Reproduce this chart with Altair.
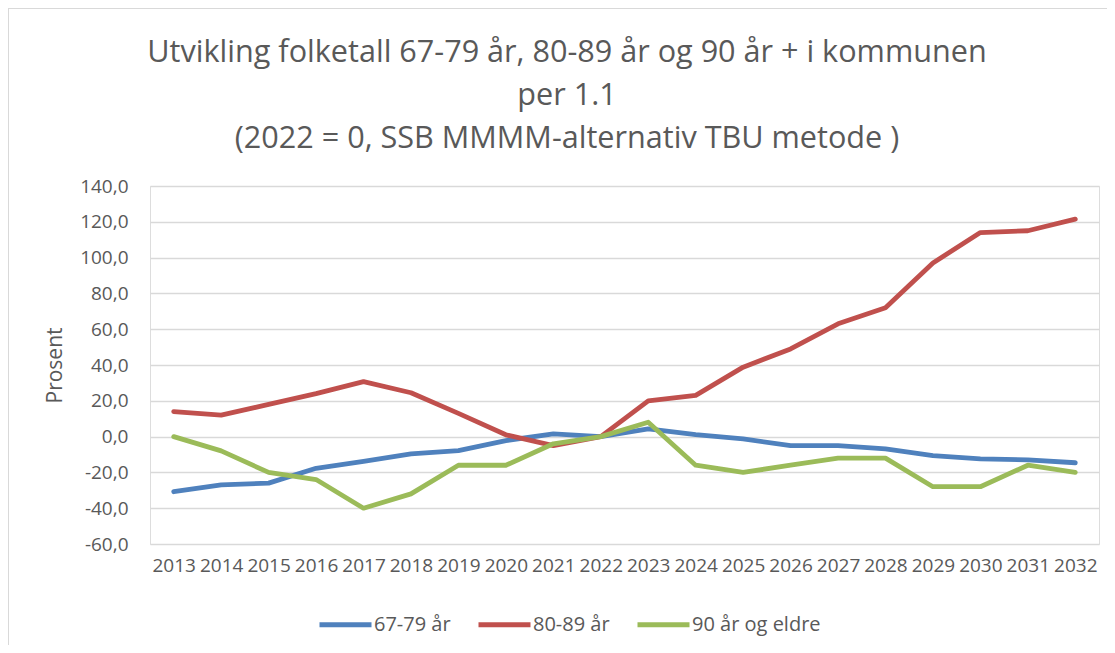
import altair as alt
import pandas as pd

years = [str(y) for y in range(2013, 2033)]
series_names = ["67-79 år", "80-89 år", "90 år og eldre"]
v_67_79 = [-30.8, -27.0, -26.0, -17.7, -13.8, -9.7, -7.8, -2.2, 1.5, 0.0,
           4.3, 1.1, -1.3, -5.0, -5.0, -6.9, -10.6, -12.5, -13.0, -14.6]
v_80_89 = [14.0, 12.0, 18.0, 24.0, 30.7, 24.5, 13.0, 1.0, -5.0, 0.0,
           20.0, 23.0, 38.8, 49.0, 63.0, 72.0, 97.0, 114.0, 115.0, 121.5]
v_90 = [0.0, -8.0, -20.0, -24.0, -40.0, -32.0, -16.0, -16.0, -4.0, 0.0,
        8.0, -16.0, -20.0, -16.0, -12.0, -12.0, -28.0, -28.0, -16.0, -20.0]
colors = ["#4f81bd", "#c0504d", "#9bbb59"]
y_ticks = [-60, -40, -20, 0, 20, 40, 60, 80, 100, 120, 140]
title_lines = ["Utvikling folketall 67-79 år, 80-89 år og 90 år + i kommunen",
               "per 1.1",
               "(2022 = 0, SSB MMMM-alternativ TBU metode )"]

rows = []
for name, vals in zip(series_names, [v_67_79, v_80_89, v_90]):
    for y, v in zip(years, vals):
        rows.append({"År": y, "Serie": name, "Prosent": v})
df = pd.DataFrame(rows)
title_df = pd.DataFrame({"tittel": ["\n".join(title_lines)]})

FONT = "Open Sans"
GREY = "#595959"

lines = alt.Chart(df).mark_line(strokeWidth=4.8, strokeCap="round", strokeJoin="round").encode(
    x=alt.X("År:O", sort=years, scale=alt.Scale(padding=0.5),
            axis=alt.Axis(title=None, labelAngle=0, ticks=False, domain=False,
                          labelPadding=12, labelFontSize=19, labelColor=GREY,
                          labelFont=FONT, labelOverlap=False, grid=False)),
    y=alt.Y("Prosent:Q", scale=alt.Scale(domain=[-60, 140], nice=False, zero=False),
            axis=alt.Axis(values=y_ticks, title="Prosent", ticks=False, domain=False,
                          grid=True, gridColor="#d9d9d9", gridWidth=1.5,
                          labelPadding=22, labelFontSize=19, labelColor=GREY, labelFont=FONT,
                          labelExpr="(datum.value < 0 ? '-' : '') + replace(format(abs(datum.value), '.1f'), '.', ',')",
                          titleFont=FONT, titleFontSize=21, titleFontWeight="normal",
                          titleColor=GREY, titleAngle=-90, titleX=-95, titleY=179,
                          titleAlign="center", titleBaseline="middle")),
    color=alt.Color("Serie:N", sort=series_names,
                    scale=alt.Scale(domain=series_names, range=colors),
                    legend=alt.Legend(title=None, orient="none", direction="horizontal",
                                      legendX=167, legendY=410,
                                      symbolType="stroke", symbolSize=2704,
                                      symbolStrokeWidth=4.8, labelFontSize=20,
                                      labelFont=FONT, labelColor=GREY, labelOffset=0,
                                      columnPadding=17, symbolOffset=0)),
    order=alt.Order("År:O"),
)

title = alt.Chart(title_df).mark_text(
    font=FONT, fontSize=30.6, color=GREY, align="center", baseline="alphabetic",
    lineBreak="\n", lineHeight=43,
).encode(text="tittel:N", x=alt.value(417), y=alt.value(-124))

frame_top = alt.Chart(df).mark_rule(color="#d9d9d9", strokeWidth=2).encode(
    x=alt.value(-142), x2=alt.value(980), y=alt.value(-178))
frame_left = alt.Chart(df).mark_rule(color="#d9d9d9", strokeWidth=2).encode(
    x=alt.value(-142), y=alt.value(-178), y2=alt.value(470))

chart = alt.layer(frame_top, frame_left, title, lines).properties(
    width=949, height=358,
    autosize=alt.AutoSizeParams(type="none"),
    padding={"left": 142, "top": 178, "right": 8, "bottom": 101},
).configure_view(stroke=None).configure(background="white")

chart.save("out.html", embed_options={"renderer": "svg", "actions": False})
